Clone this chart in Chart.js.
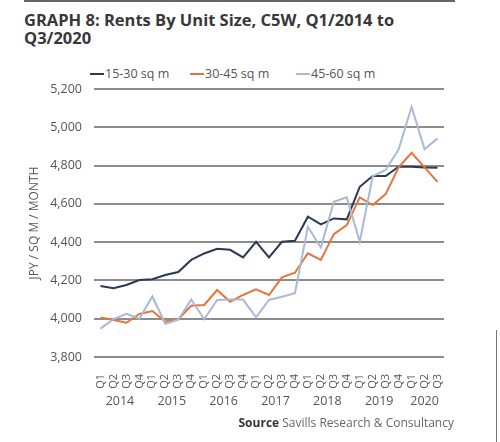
<!DOCTYPE html>
<html>
<head>
<meta charset="utf-8">
<script src="https://cdn.jsdelivr.net/npm/chart.js@4"></script>
<style>
  html, body { margin: 0; padding: 0; background: #fff; }
  #wrap { position: relative; width: 500px; height: 442px; overflow: hidden; font-family: 'Open Sans', sans-serif; }
  #chart { position: absolute; left: 0; top: 0; }
  .title { position: absolute; left: 24px; top: 11px; font-weight: 700; font-size: 16.5px; line-height: 18px; color: #383838; white-space: nowrap; }
  .topline { position: absolute; left: 24px; top: 0; width: 431px; height: 2px; background: #666; }
  .rightline { position: absolute; left: 496px; top: 330px; width: 1px; height: 112px; background: #777; }
  .leg { position: absolute; top: 65px; font-size: 12.5px; color: #555; white-space: nowrap; line-height: 18px; }
  .leg i { display: inline-block; width: 14px; height: 2px; vertical-align: middle; margin-right: 1px; margin-top: -2px; }
  .source { position: absolute; right: 46px; top: 414px; font-size: 12px; color: #666; white-space: nowrap; }
  .source b { color: #333; }
</style>
</head>
<body>
<div id="wrap">
  <div class="topline"></div>
  <div class="rightline"></div>
  <div class="title">GRAPH 8: Rents By Unit Size, C5W, Q1/2014 to<br>Q3/2020</div>
  <div class="leg" style="left:90px"><i style="background:#2b3a52"></i>15-30 sq m</div>
  <div class="leg" style="left:190px"><i style="background:#e8743b"></i>30-45 sq m</div>
  <div class="leg" style="left:296px"><i style="background:#a9b9d8"></i>45-60 sq m</div>
  <canvas id="chart" width="500" height="442"></canvas>
  <div class="source"><b>Source</b> Savills Research &amp; Consultancy</div>
</div>
<script>
// ─── DATA ────────────────────────────────────────────
const quarterLabels = ['Q1','Q2','Q3','Q4','Q1','Q2','Q3','Q4','Q1','Q2','Q3','Q4',
                       'Q1','Q2','Q3','Q4','Q1','Q2','Q3','Q4','Q1','Q2','Q3','Q4',
                       'Q1','Q2','Q3'];
const yearLabels = ['2014','2015','2016','2017','2018','2019','2020'];

const size15to30 = [4171, 4159, 4176, 4202, 4206, 4228, 4244, 4307, 4341, 4365, 4360, 4320, 4402, 4320,
                    4402, 4407, 4533, 4493, 4524, 4519, 4689, 4745, 4745, 4794, 4794, 4790, 4788];
const size30to45 = [4007, 3993, 3979, 4025, 4040, 3985, 3997, 4068, 4072, 4150, 4089, 4124, 4153, 4124,
                    4216, 4240, 4342, 4307, 4442, 4489, 4634, 4594, 4651, 4791, 4867, 4791, 4715];
const size45to60 = [3948, 3998, 4025, 4000, 4116, 3974, 3995, 4100, 3997, 4098, 4100, 4100, 4007, 4098,
                    4115, 4133, 4480, 4372, 4611, 4634, 4402, 4745, 4777, 4885, 5107, 4885, 4942];

const yMin = 3800, yMax = 5200, yStep = 200;

// ─── YEAR LABELS UNDER QUARTERS ──────────────────────
const yearRow = {
  id: 'yearRow',
  afterDraw(chart) {
    const { ctx, scales: { x } } = chart;
    ctx.save();
    ctx.font = '12.5px "Open Sans", sans-serif';
    ctx.fillStyle = '#555';
    ctx.textAlign = 'center';
    ctx.textBaseline = 'middle';
    yearLabels.forEach((yr, k) => {
      const first = k * 4;
      const last = Math.min(first + 3, quarterLabels.length - 1);
      const cx = (x.getPixelForValue(first) + x.getPixelForValue(last)) / 2;
      ctx.fillText(yr, cx, 401);
    });
    ctx.restore();
  }
};

// ─── CHART ───────────────────────────────────────────
function series(label, data, color) {
  return {
    label, data,
    borderColor: color,
    backgroundColor: color,
    borderWidth: 2,
    pointRadius: 0,
    tension: 0,
  };
}

new Chart(document.getElementById('chart'), {
  type: 'line',
  data: {
    labels: quarterLabels,
    datasets: [
      series('45-60 sq m', size45to60, '#a9b9d8'),
      series('30-45 sq m', size30to45, '#e8743b'),
      series('15-30 sq m', size15to30, '#2b3a52'),
    ],
  },
  plugins: [yearRow],
  options: {
    responsive: false,
    animation: false,
    layout: { padding: { top: 89, right: 56, bottom: 0, left: 0 } },
    plugins: { legend: { display: false }, tooltip: { enabled: false } },
    scales: {
      x: {
        offset: true,
        grid: { display: false },
        border: { display: false },
        ticks: {
          autoSkip: false, minRotation: 90, maxRotation: 90,
          color: '#555', padding: 9,
          font: { size: 11, family: 'Open Sans' },
        },
        afterFit(s) { s.height = 85; },
      },
      y: {
        min: yMin, max: yMax,
        grid: { color: '#8c8c8c', lineWidth: 2, drawTicks: false },
        border: { display: false },
        ticks: {
          stepSize: yStep, padding: 12, color: '#555',
          font: { size: 12.5, family: 'Open Sans' },
          callback: v => v.toLocaleString('en-US'),
        },
        title: {
          display: true, text: 'JPY / SQ M / MONTH', color: '#555',
          font: { size: 12, family: 'Open Sans' },
          padding: { top: 27, bottom: 0 },
        },
        afterFit(s) { s.width = 94; },
      },
    },
  },
});
</script>
</body>
</html>
